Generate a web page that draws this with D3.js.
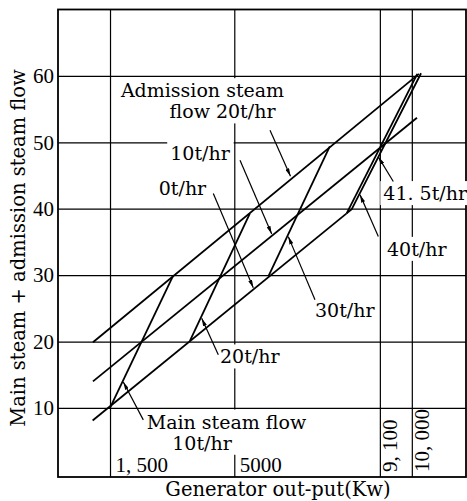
<!DOCTYPE html>
<html>
<head>
<meta charset="utf-8">
<script src="https://cdn.jsdelivr.net/npm/d3@7"></script>
<style>
  body { margin: 0; background: #fff; }
  svg { display: block; }
</style>
</head>
<body>
<div id="graphic"></div>
<script>
// Tick values and labels
const xTickValues = [1500, 5000, 9100, 10000];
const xTickLabels = ["1, 500", "5000", "9, 100", "10, 000"];
const yTickValues = [10, 20, 30, 40, 50, 60];

// Constant admission steam flow lines: [output kW, main + admission t/hr]
const admission0 = [[1010, 8.1], [8165, 39.3]];
const admission10 = [[1020, 14.0], [10145, 53.7]];
const admission20 = [[1020, 19.9], [10200, 60.3]];

// Constant main steam flow lines
const main10 = [[1500, 10.0], [3275, 29.9]];
const main20 = [[3750, 20.1], [5440, 39.3]];
const main30 = [[5960, 29.8], [7690, 49.4]];
const main40 = [[8165, 39.3], [10155, 60.3]];
const main415 = [[8165, 39.3], [8305, 39.9], [10260, 60.4]];

const curves = [admission0, admission10, admission20, main10, main20, main30, main40, main415];

// Annotation text blocks (data units)
const labelBlocks = [
    [{ text: "Admission steam", x: 4105, y: 56.8, anchor: "middle" },
     { text: "flow 20t/hr", x: 4668, y: 53.6, anchor: "middle" }],
    [{ text: "10t/hr", x: 4034, y: 47.3, anchor: "middle" }],
    [{ text: "0t/hr", x: 3541, y: 42.1, anchor: "middle" }],
    [{ text: "41. 5t/hr", x: 9197, y: 41.3, anchor: "start" }],
    [{ text: "40t/hr", x: 9301, y: 32.9, anchor: "start" }],
    [{ text: "30t/hr", x: 7273, y: 23.7, anchor: "start" }],
    [{ text: "20t/hr", x: 4598, y: 16.7, anchor: "start" }],
    [{ text: "Main steam flow", x: 2533, y: 6.9, anchor: "start" },
     { text: "10t/hr", x: 4091, y: 3.7, anchor: "middle" }]
];

// Leader arrows: [from, to]
const arrows = [
    [[6006, 51.8], [6583, 44.9]],
    [[5161, 47.3], [6054, 36.2]],
    [[4409, 42.3], [5535, 28.1]],
    [[7273, 26.3], [6521, 35.8]],
    [[4550, 18.0], [4082, 23.5]],
    [[2437, 8.2], [1874, 13.9]],
    [[9478, 44.1], [9056, 47.8]],
    [[9056, 35.8], [8541, 42.1]]
];

const svgWidth = 467;
const svgHeight = 501;
const plotLeft = 58, plotRight = 466, plotTop = 9.5, plotBottom = 477;

const svg = d3.select("#graphic")
    .append("svg")
    .attr("width", svgWidth)
    .attr("height", svgHeight);

const xScale = d3.scaleLinear()
    .domain([35, 11526])
    .range([plotLeft, plotRight]);

const yScale = d3.scaleLinear()
    .domain([-0.4, 70])
    .range([plotBottom, plotTop]);

// Arrowhead
svg.append("defs").append("marker")
    .attr("id", "head")
    .attr("viewBox", "0 0 8 4")
    .attr("refX", 8)
    .attr("refY", 2)
    .attr("markerWidth", 8)
    .attr("markerHeight", 4)
    .attr("markerUnits", "userSpaceOnUse")
    .attr("orient", "auto")
    .append("path")
    .attr("d", "M0,0 L8,2 L0,4 Z")
    .attr("fill", "#000");

// y grid + labels
const yAxis = d3.axisLeft(yScale)
    .tickValues(yTickValues)
    .tickSize(-(plotRight - plotLeft))
    .tickPadding(4);
const gy = svg.append("g")
    .attr("transform", "translate(" + plotLeft + ",0)")
    .call(yAxis);
gy.select(".domain").remove();
gy.selectAll(".tick line").attr("stroke", "#000").attr("stroke-width", 1.2);
gy.selectAll(".tick text")
    .attr("fill", "#000")
    .style("font-family", "'Liberation Serif', serif")
    .style("font-size", "21px");

// x grid + labels inside the plot
const xAxis = d3.axisBottom(xScale)
    .tickValues(xTickValues)
    .tickFormat((d, i) => xTickLabels[i])
    .tickSize(-(plotBottom - plotTop));
const gx = svg.append("g")
    .attr("transform", "translate(0," + plotBottom + ")")
    .call(xAxis);
gx.select(".domain").remove();
gx.selectAll(".tick line").attr("stroke", "#000").attr("stroke-width", 1.2);
gx.selectAll(".tick text")
    .attr("fill", "#000")
    .style("font-family", "'Liberation Serif', serif")
    .style("font-size", "21px")
    .attr("dy", 0)
    .attr("text-anchor", "start")
    .each(function(d) {
        const t = d3.select(this);
        if (d > 9000) {
            t.attr("transform", "rotate(-90)").attr("x", 5).attr("y", 16.8);
        } else {
            t.attr("x", 5).attr("y", -5);
        }
    });

// Frame
svg.append("rect")
    .attr("x", plotLeft)
    .attr("y", plotTop)
    .attr("width", plotRight - plotLeft)
    .attr("height", plotBottom - plotTop)
    .attr("fill", "none")
    .attr("stroke", "#000")
    .attr("stroke-width", 1.8);

// Curves
const line = d3.line()
    .x(d => xScale(d[0]))
    .y(d => yScale(d[1]));

svg.selectAll(".curve")
    .data(curves)
    .enter()
    .append("path")
    .attr("class", "curve")
    .attr("d", line)
    .attr("fill", "none")
    .attr("stroke", "#000")
    .attr("stroke-width", 1.8)
    .attr("stroke-linejoin", "round");

// Labels with white knockout behind each block
labelBlocks.forEach(block => {
    const g = svg.append("g");
    const bg = g.append("rect").attr("fill", "#fff");
    block.forEach(l => {
        g.append("text")
            .attr("x", xScale(l.x))
            .attr("y", yScale(l.y))
            .attr("text-anchor", l.anchor)
            .style("font-family", "'DejaVu Serif', serif")
            .style("font-size", "19px")
            .text(l.text);
    });
    const boxes = g.selectAll("text").nodes().map(n => n.getBBox());
    const x0 = d3.min(boxes, b => b.x) - 3;
    const y0 = d3.min(boxes, b => b.y) - 1;
    const x1 = d3.max(boxes, b => b.x + b.width) + 3;
    const y1 = d3.max(boxes, b => b.y + b.height) + 1;
    bg.attr("x", x0).attr("y", y0).attr("width", x1 - x0).attr("height", y1 - y0);
});

// Leader arrows
svg.selectAll(".arrow")
    .data(arrows)
    .enter()
    .append("line")
    .attr("class", "arrow")
    .attr("x1", d => xScale(d[0][0]))
    .attr("y1", d => yScale(d[0][1]))
    .attr("x2", d => xScale(d[1][0]))
    .attr("y2", d => yScale(d[1][1]))
    .attr("stroke", "#000")
    .attr("stroke-width", 1.2)
    .attr("marker-end", "url(#head)");

// Axis titles
svg.append("text")
    .attr("x", (plotLeft + plotRight) / 2 + 16)
    .attr("y", 496)
    .attr("text-anchor", "middle")
    .style("font-family", "'DejaVu Serif', serif")
    .style("font-size", "19.5px")
    .text("Generator out-put(Kw)");

svg.append("text")
    .attr("transform", "translate(25,248) rotate(-90)")
    .attr("text-anchor", "middle")
    .style("font-family", "'DejaVu Serif', serif")
    .style("font-size", "19.5px")
    .text("Main steam + admission steam flow");
</script>
</body>
</html>
